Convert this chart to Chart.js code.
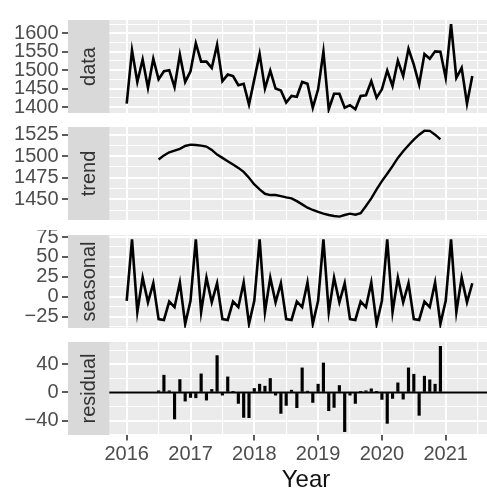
<!DOCTYPE html>
<html>
<head>
<meta charset="utf-8">
<script src="https://cdn.jsdelivr.net/npm/chart.js@4.4.1/dist/chart.umd.min.js"></script>
<style>
  html, body { margin: 0; padding: 0; background: #fff; overflow: hidden; }
  canvas { position: absolute; left: 0; }
</style>
</head>
<body>
<canvas id="dataChart" width="487" height="103" style="top:15px"></canvas>
<canvas id="trendChart" width="487" height="103" style="top:122px"></canvas>
<canvas id="seasonalChart" width="487" height="103" style="top:230px"></canvas>
<canvas id="residualChart" width="487" height="154" style="top:337px"></canvas>
<script>
// monthly series, Jan 2016 .. Jun 2021
const months = [
  "2016-01","2016-02","2016-03","2016-04","2016-05","2016-06","2016-07","2016-08","2016-09","2016-10","2016-11","2016-12",
  "2017-01","2017-02","2017-03","2017-04","2017-05","2017-06","2017-07","2017-08","2017-09","2017-10","2017-11","2017-12",
  "2018-01","2018-02","2018-03","2018-04","2018-05","2018-06","2018-07","2018-08","2018-09","2018-10","2018-11","2018-12",
  "2019-01","2019-02","2019-03","2019-04","2019-05","2019-06","2019-07","2019-08","2019-09","2019-10","2019-11","2019-12",
  "2020-01","2020-02","2020-03","2020-04","2020-05","2020-06","2020-07","2020-08","2020-09","2020-10","2020-11","2020-12",
  "2021-01","2021-02","2021-03","2021-04","2021-05","2021-06"
];

const dataValues = [
  1409, 1554, 1468, 1529, 1452, 1531, 1475, 1497, 1500, 1454, 1542, 1468,
  1497, 1573, 1523, 1523, 1506, 1569, 1470, 1488, 1484, 1459, 1463, 1407,
  1475, 1544, 1450, 1499, 1450, 1445, 1412, 1430, 1428, 1468, 1463, 1398,
  1448, 1550, 1394, 1436, 1436, 1398, 1405, 1394, 1430, 1432, 1470, 1425,
  1448, 1499, 1457, 1526, 1484, 1558, 1515, 1461, 1544, 1531, 1551, 1550,
  1479, 1625, 1479, 1506, 1409, 1484
];

const trendValues = [
  null, null, null, null, null, null, 1496.2, 1501.0, 1504.6, 1506.5, 1508.5, 1511.9,
  1513.5, 1513.1, 1512.3, 1511.2, 1507.3, 1501.9, 1498.1, 1494.2, 1490.4, 1486.5, 1481.9, 1475.0,
  1467.3, 1461.5, 1456.5, 1455.0, 1455.0, 1453.8, 1452.3, 1451.2, 1448.0, 1444.2, 1440.4, 1437.7,
  1435.4, 1433.5, 1431.9, 1430.8, 1430.0, 1431.9, 1433.5, 1432.3, 1434.0, 1442.3, 1451.2, 1461.5,
  1471.2, 1479.7, 1488.5, 1498.1, 1505.8, 1512.7, 1519.2, 1525.0, 1529.6, 1529.4, 1525.0, 1519.5,
  null, null, null, null, null, null
];

const seasonalValues = [
  -5, 72, -19, 24, -7, 17, -28, -29, -6, -13, 18, -34,
  -5, 72, -19, 24, -7, 17, -28, -29, -6, -13, 18, -34,
  -5, 72, -19, 24, -7, 17, -28, -29, -6, -13, 18, -34,
  -5, 72, -19, 24, -7, 17, -28, -29, -6, -13, 18, -34,
  -5, 72, -19, 24, -7, 17, -28, -29, -6, -13, 18, -34,
  -5, 72, -19, 24, -7, 17
];

const residualValues = [
  null, null, null, null, null, null, 2.4, 24.6, 2.4, -37.8, 18.4, -12.3,
  -7.1, -7.6, 26.5, -10.9, 4.3, 52.5, -3.8, 22.2, 0.8, -15.6, -35.5, -35.9,
  5.7, 11.8, 9.0, 19.9, -3.8, -29.8, -18.4, 3.3, -21.7, 35.0, 1.9, -14.2,
  11.8, 42.0, -26.0, -21.3, 9.9, -55.8, -3.8, -15.6, 0.5, 2.4, 5.2, 0.3,
  -9.9, -44.0, -8.5, 13.7, -9.5, 35.0, 26.0, -32.6, 23.2, 18.0, 11.8, 65.7,
  null, null, null, null, null, null
];

// grid / tick positions
const xGrid = [2015.5, 2016, 2016.5, 2017, 2017.5, 2018, 2018.5, 2019, 2019.5, 2020, 2020.5, 2021, 2021.5];
const dataTicks = [1400, 1425, 1450, 1475, 1500, 1525, 1550, 1575, 1600, 1625];
const dataMajor = [1400, 1450, 1500, 1550, 1600];
const trendTicks = [1437.5, 1450, 1462.5, 1475, 1487.5, 1500, 1512.5, 1525];
const trendMajor = [1450, 1475, 1500, 1525];
const seasonalTicks = [-37.5, -25, -12.5, 0, 12.5, 25, 37.5, 50, 62.5, 75];
const seasonalMajor = [-25, 0, 25, 50, 75];
const residualTicks = [-60, -40, -20, 0, 20, 40, 60];
const residualMajor = [-40, 0, 40];

const FONT = "'Liberation Sans', Arial, Helvetica, sans-serif";
const X_MIN = 2015.08;      // strip starts here
const X_MAX = 2021.647;
const PANEL_START = 2015.727; // grey strip ends, panel begins

const time = months.map(m => {
  const [y, mo] = m.split("-").map(Number);
  return y + (mo - 1) / 12;
});
const toXY = values => values.map((v, i) => ({ x: time[i], y: v }));

const fmt = v => (v < 0 ? "\u2212" + Math.abs(v) : String(v));

const panelPlugin = {
  id: "panel",
  beforeDraw(chart) {
    const { ctx, chartArea: a } = chart;
    ctx.save();
    ctx.fillStyle = "#EBEBEB";
    ctx.fillRect(a.left, a.top, a.right - a.left, a.bottom - a.top);
    ctx.restore();
  },
  beforeDatasetsDraw(chart, args, opts) {
    const { ctx, chartArea: a } = chart;
    const stripRight = chart.scales.x.getPixelForValue(PANEL_START);
    ctx.save();
    ctx.fillStyle = "#D9D9D9";
    ctx.fillRect(a.left, a.top, stripRight - a.left, a.bottom - a.top);
    ctx.translate((a.left + stripRight) / 2, (a.top + a.bottom) / 2);
    ctx.rotate(-Math.PI / 2);
    ctx.fillStyle = "#333333";
    ctx.font = "20px " + FONT;
    ctx.textAlign = "center";
    ctx.textBaseline = "middle";
    ctx.fillText(opts.label, 0, 1);
    ctx.restore();
    if (opts.zeroLine) {
      const y0 = chart.scales.y.getPixelForValue(0);
      ctx.save();
      ctx.strokeStyle = "#000";
      ctx.lineWidth = 2;
      ctx.beginPath();
      ctx.moveTo(stripRight, y0);
      ctx.lineTo(a.right, y0);
      ctx.stroke();
      ctx.restore();
    }
  },
  afterDraw(chart, args, opts) {
    if (!opts.xTitle) return;
    const { ctx } = chart;
    ctx.save();
    ctx.fillStyle = "#111";
    ctx.font = "24px " + FONT;
    ctx.textAlign = "center";
    ctx.textBaseline = "middle";
    ctx.fillText(opts.xTitle, 306, 143.5);
    ctx.restore();
  }
};

function xScale(showLabels) {
  const isMajor = c => c.tick && Math.abs(c.tick.value % 1) < 1e-6;
  return {
    type: "linear",
    min: X_MIN,
    max: X_MAX,
    offset: false,
    afterBuildTicks: s => { s.ticks = xGrid.map(v => ({ value: v })); },
    afterFit: s => {
      s.height = showLabels ? 56 : 0;
      s.paddingLeft = 0;
      s.paddingRight = 0;
    },
    border: { display: false },
    grid: {
      offset: false,
      color: "#FFFFFF",
      lineWidth: c => (isMajor(c) ? 2 : 1.1),
      drawTicks: showLabels,
      tickLength: 5.5,
      tickWidth: 1.6,
      tickColor: c => (isMajor(c) ? "#333333" : "rgba(0,0,0,0)")
    },
    ticks: {
      display: showLabels,
      autoSkip: false,
      maxRotation: 0,
      padding: 2,
      color: "#4D4D4D",
      font: { size: 20, family: FONT },
      callback: v => (Math.abs(v % 1) < 1e-6 ? String(v) : "")
    }
  };
}

function yScale(min, max, ticks, major) {
  const isMajor = c => c.tick && major.includes(c.tick.value);
  return {
    min: min,
    max: max,
    afterBuildTicks: s => { s.ticks = ticks.map(v => ({ value: v })); },
    afterFit: s => {
      s.width = 68;
      s.paddingTop = 0;
      s.paddingBottom = 0;
    },
    border: { display: false },
    grid: {
      color: "#FFFFFF",
      lineWidth: c => (isMajor(c) ? 2 : 1.1),
      tickLength: 6,
      tickWidth: 1.6,
      tickColor: c => (isMajor(c) ? "#333333" : "rgba(0,0,0,0)")
    },
    ticks: {
      autoSkip: false,
      padding: 3.5,
      color: "#4D4D4D",
      font: { size: 20, family: FONT },
      callback: v => (major.includes(v) ? fmt(v) : "")
    }
  };
}

function makeChart(id, type, values, label, yMin, yMax, ticks, major, opts = {}) {
  const isBottom = !!opts.bottom;
  const dataset = type === "bar"
    ? { data: toXY(values), backgroundColor: "#000", barThickness: 2.5 }
    : { data: toXY(values), borderColor: "#000", borderWidth: opts.lineWidth || 2.6,
        pointRadius: 0, tension: 0, spanGaps: false, fill: false };
  return new Chart(document.getElementById(id).getContext("2d"), {
    type: type,
    data: { datasets: [dataset] },
    options: {
      responsive: false,
      animation: false,
      events: [],
      layout: { padding: { top: 5, bottom: isBottom ? 0 : 5, left: 0, right: 0 } },
      plugins: {
        legend: { display: false },
        tooltip: { enabled: false },
        panel: { label: label, zeroLine: !!opts.zeroLine, xTitle: isBottom ? "Year" : null }
      },
      scales: {
        x: xScale(isBottom),
        y: yScale(yMin, yMax, ticks, major)
      }
    },
    plugins: [panelPlugin]
  });
}

makeChart("dataChart", "line", dataValues, "data", 1383.8, 1636, dataTicks, dataMajor);
makeChart("trendChart", "line", trendValues, "trend", 1426.1, 1533.9, trendTicks, trendMajor, { lineWidth: 2.4 });
makeChart("seasonalChart", "line", seasonalValues, "seasonal", -39.1, 77.5, seasonalTicks, seasonalMajor);
makeChart("residualChart", "bar", residualValues, "residual", -60.6, 71.9, residualTicks, residualMajor,
  { zeroLine: true, bottom: true });
</script>
</body>
</html>
